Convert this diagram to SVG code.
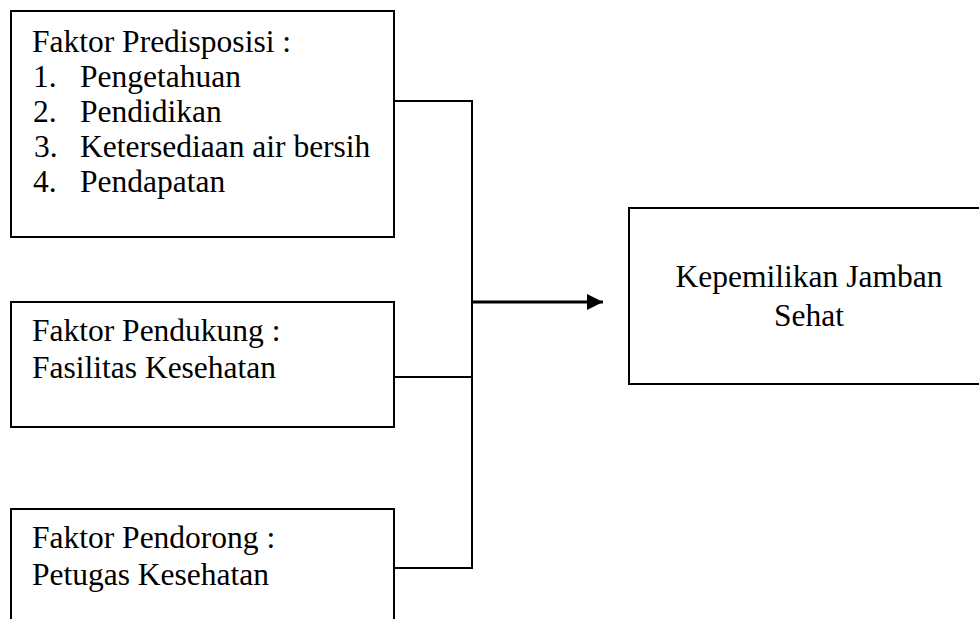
<svg xmlns="http://www.w3.org/2000/svg" width="979" height="619" viewBox="0 0 979 619">
<style>
.box{fill:#fff;stroke:#000;stroke-width:2}
.t{font-family:"Liberation Serif","Times New Roman",serif;font-size:31.5px;fill:#000}
.c{fill:none;stroke:#000;stroke-width:2}
.a{fill:none;stroke:#000;stroke-width:3}
</style>
<defs>
<marker id="ah" markerWidth="16" markerHeight="16" refX="16" refY="8" orient="auto" markerUnits="userSpaceOnUse">
<path d="M0,0 L16,8 L0,16 Z" fill="#000"/>
</marker>
</defs>
<rect width="979" height="619" fill="#fff"/>
<g id="predisposisi">
<rect class="box" x="11" y="11" width="383" height="226"/>
<text class="t" x="32" y="52">Faktor Predisposisi :</text>
<text class="t" x="33" y="87">1.</text><text class="t" x="80" y="87">Pengetahuan</text>
<text class="t" x="33" y="122">2.</text><text class="t" x="80" y="122">Pendidikan</text>
<text class="t" x="34" y="157">3.</text><text class="t" x="80" y="157">Ketersediaan air bersih</text>
<text class="t" x="33" y="192">4.</text><text class="t" x="80" y="192">Pendapatan</text>
</g>
<g id="pendukung">
<rect class="box" x="11" y="302" width="383" height="125"/>
<text class="t" x="32" y="341">Faktor Pendukung :</text>
<text class="t" x="32" y="378">Fasilitas Kesehatan</text>
</g>
<g id="pendorong">
<rect class="box" x="11" y="509" width="383" height="130"/>
<text class="t" x="32" y="548">Faktor Pendorong :</text>
<text class="t" x="32" y="585">Petugas Kesehatan</text>
</g>
<g id="kepemilikan">
<rect class="box" x="629" y="208" width="370" height="176"/>
<text class="t" x="809" y="287" text-anchor="middle">Kepemilikan Jamban</text>
<text class="t" x="809" y="326" text-anchor="middle">Sehat</text>
</g>
<g id="connectors">
<path class="c" d="M394,101 H472 V568 H394"/>
<path class="c" d="M394,377 H472"/>
<path class="a" d="M472,302 H603" marker-end="url(#ah)"/>
</g>
</svg>
